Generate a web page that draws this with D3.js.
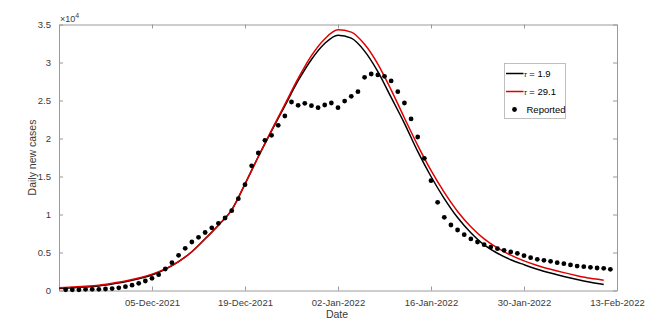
<!DOCTYPE html>
<html>
<head>
<meta charset="utf-8">
<script src="https://cdn.jsdelivr.net/npm/d3@7"></script>
<style>
  body { margin: 0; background: #fff; }
  svg { font-family: "Liberation Sans", Arial, sans-serif; }
</style>
</head>
<body>
<svg id="chart" width="651" height="327"></svg>
<script>
// reported daily cases (thousands), one per day from 22-Nov-2021
const reportedStart = '2021-11-22';
const reported = [
  0.1, 0.1, 0.1, 0.15, 0.15, 0.15, 0.2, 0.25, 0.35, 0.5,
  0.7, 0.94, 1.25, 1.6, 2.08, 2.83, 3.66, 4.63, 5.55, 6.38,
  7.0, 7.63, 8.25, 8.84, 9.54, 10.5, 12.08, 13.93, 16.4, 18.09,
  19.76, 20.42, 21.73, 22.96, 24.8, 24.36, 24.63, 24.32, 24.06, 24.41,
  24.67, 24.06, 24.93, 25.55, 26.16, 28.05, 28.49, 28.36, 28.18, 27.57,
  26.16, 24.67, 22.57, 20.2, 17.39, 14.45, 11.6, 9.63, 8.62, 7.96,
  7.35, 6.78, 6.38, 6.03, 5.72, 5.5, 5.29, 5.07, 4.89, 4.58,
  4.32, 4.1, 3.97, 3.84, 3.66, 3.53, 3.36, 3.22, 3.14, 3.05,
  2.96, 2.92, 2.79
];

// fitted curves, days after 21-Nov-2021
const modelDays = [0, 2, 4, 6, 8, 10, 12, 14, 16, 18, 20, 22, 24, 26, 28, 30, 32, 34, 36, 38, 40,
  42, 44, 46, 48, 50, 52, 54, 56, 58, 60, 62, 64, 66, 68, 70, 72, 74, 76, 78, 80, 82];
const tau1 = [0.25, 0.35, 0.45, 0.6, 0.85, 1.15, 1.55, 2.05, 2.8, 3.8, 5.1, 6.8, 8.6, 10.6, 14.0,
  17.6, 21.0, 24.3, 27.6, 30.4, 32.5, 33.6, 33.2, 31.5, 28.8, 25.4, 22.0, 18.3, 15.0, 12.1, 9.6,
  7.6, 6.0, 4.9, 4.05, 3.4, 2.8, 2.3, 1.85, 1.45, 1.1, 0.8];
const tau2 = [0.35, 0.45, 0.55, 0.7, 0.95, 1.25, 1.65, 2.15, 2.85, 3.8, 5.1, 6.8, 8.6, 10.6, 14.0,
  17.6, 21.1, 24.5, 27.9, 30.9, 33.1, 34.3, 34.0, 32.4, 29.8, 26.4, 22.7, 19.1, 15.8, 12.9, 10.4,
  8.4, 6.8, 5.6, 4.65, 3.9, 3.3, 2.8, 2.35, 1.95, 1.6, 1.35];

const xTicks = ['2021-12-05', '2021-12-19', '2022-01-02', '2022-01-16', '2022-01-30', '2022-02-13'];
// y ticks in thousands, labelled in units of 10^4
const yTicks = [0, 5, 10, 15, 20, 25, 30, 35];

const svg = d3.select('#chart');
const margin = { left: 59, right: 34, top: 24.5, bottom: 36.5 };
const width = 651 - margin.left - margin.right;
const height = 327 - margin.top - margin.bottom;
const parse = d3.utcParse('%Y-%m-%d');
const start = parse('2021-11-21');
const fmt = d3.utcFormat('%d-%b-%Y');

const x = d3.scaleUtc().domain([start, parse('2022-02-13')]).range([0, width]);
const y = d3.scaleLinear().domain([0, 35]).range([height, 0]);

const g = svg.append('g').attr('transform', `translate(${margin.left},${margin.top})`);
const axisColor = '#9a9a9a';
const textColor = '#3a3a3a';

function styleAxis(sel, showText) {
  sel.select('.domain').attr('stroke', axisColor);
  sel.selectAll('.tick line').attr('stroke', axisColor);
  sel.selectAll('.tick text').attr('fill', textColor).attr('font-size', 9.5)
    .style('display', showText ? null : 'none');
}

const xTickDates = xTicks.map(parse);
g.append('g').attr('transform', `translate(0,${height})`)
  .call(d3.axisBottom(x).tickValues(xTickDates).tickFormat(fmt).tickSizeInner(-4).tickSizeOuter(0).tickPadding(9))
  .call(s => styleAxis(s, true));
g.append('g')
  .call(d3.axisTop(x).tickValues(xTickDates).tickFormat('').tickSizeInner(-4).tickSizeOuter(0))
  .call(s => styleAxis(s, false));
g.append('g')
  .call(d3.axisLeft(y).tickValues(yTicks).tickFormat(d => String(d / 10)).tickSizeInner(-4).tickSizeOuter(0).tickPadding(8))
  .call(s => styleAxis(s, true));
g.append('g').attr('transform', `translate(${width},0)`)
  .call(d3.axisRight(y).tickValues(yTicks).tickFormat('').tickSizeInner(-4).tickSizeOuter(0))
  .call(s => styleAxis(s, false));

// exponent label
const expo = g.append('text').attr('x', 1).attr('y', -3).attr('fill', textColor).attr('font-size', 9);
expo.append('tspan').text('\u00d710');
expo.append('tspan').attr('dy', -4).attr('font-size', 7).text('4');

// axis titles
svg.append('text').attr('x', margin.left + width / 2 - 1).attr('y', 318)
  .attr('text-anchor', 'middle').attr('fill', textColor).attr('font-size', 10.5).text('Date');
svg.append('text').attr('transform', `translate(36,${margin.top + height / 2}) rotate(-90)`)
  .attr('text-anchor', 'middle').attr('fill', textColor).attr('font-size', 10.5).text('Daily new cases');

const line = d3.line()
  .x(d => x(d3.utcDay.offset(start, d[0])))
  .y(d => y(d[1]))
  .curve(d3.curveMonotoneX);

g.append('path').datum(modelDays.map((d, i) => [d, tau1[i]]))
  .attr('d', line).attr('fill', 'none').attr('stroke', '#000').attr('stroke-width', 1.5);
g.append('path').datum(modelDays.map((d, i) => [d, tau2[i]]))
  .attr('d', line).attr('fill', 'none').attr('stroke', '#e00000').attr('stroke-width', 1.5);

const rStart = parse(reportedStart);
g.selectAll('circle.rep').data(reported).join('circle')
  .attr('class', 'rep')
  .attr('cx', (d, i) => x(d3.utcDay.offset(rStart, i)))
  .attr('cy', d => y(d))
  .attr('r', 2.4)
  .attr('fill', '#000');

// legend
const leg = svg.append('g').attr('transform', 'translate(504.5,63.5)');
leg.append('rect').attr('width', 61).attr('height', 55)
  .attr('fill', '#fff').attr('stroke', '#b0b0b0').attr('stroke-width', 0.8);
const items = [
  { label: ' = 1.9', color: '#000', tau: true },
  { label: ' = 29.1', color: '#e00000', tau: true },
  { label: 'Reported', color: '#000', tau: false }
];
items.forEach((it, i) => {
  const row = leg.append('g').attr('transform', `translate(0,${10 + i * 18})`);
  if (it.tau) {
    row.append('line').attr('x1', 1.5).attr('x2', 19).attr('stroke', it.color).attr('stroke-width', 1.5);
    const t = row.append('text').attr('x', 19.5).attr('y', 3.5).attr('fill', '#000').attr('font-size', 9.5);
    t.append('tspan').attr('font-size', 7).attr('font-style', 'italic').text('\u03c4');
    t.append('tspan').text(it.label);
  } else {
    row.append('circle').attr('cx', 10).attr('cy', 0).attr('r', 2.4).attr('fill', '#000');
    row.append('text').attr('x', 22).attr('y', 3.5).attr('fill', '#000').attr('font-size', 9.5).text(it.label);
  }
});
</script>
</body>
</html>
